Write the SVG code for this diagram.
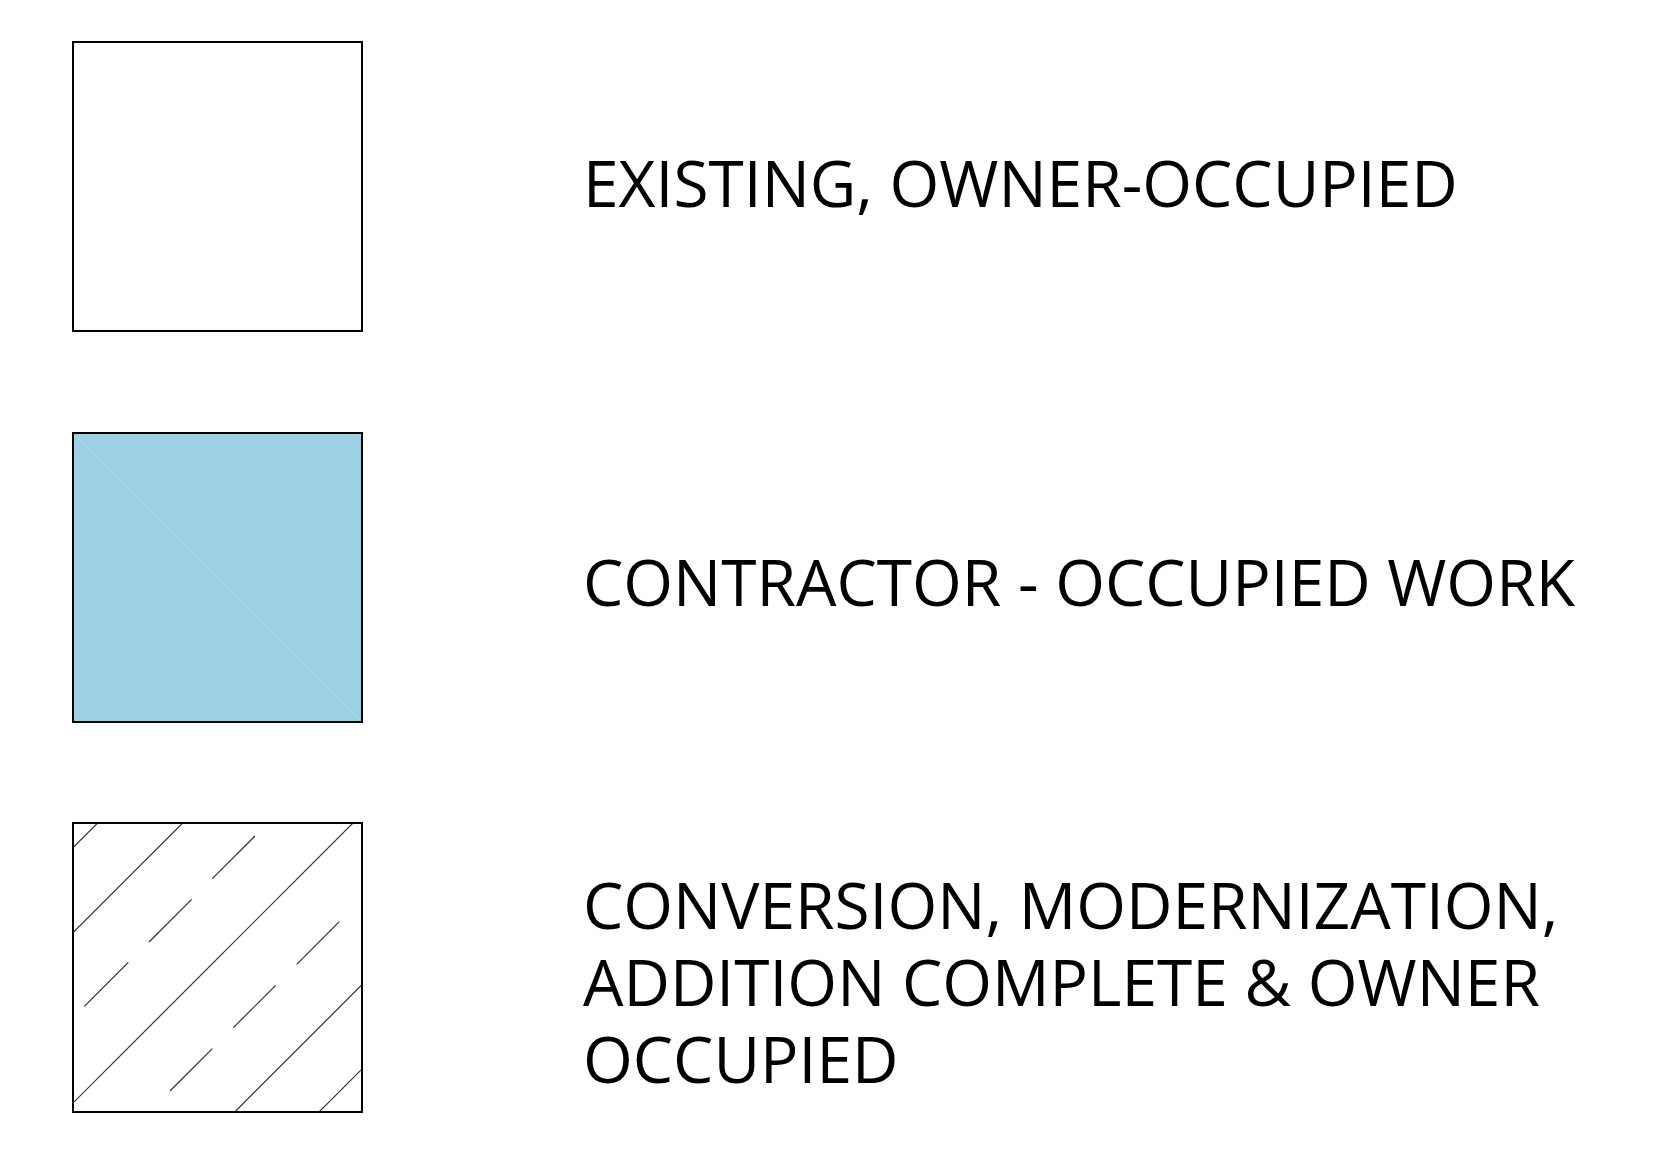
<svg xmlns="http://www.w3.org/2000/svg" width="1653" height="1152" viewBox="0 0 1653 1152">
<defs>
<style>
.box{stroke:#000;stroke-width:2;}
.lbl{font-family:"Open Sans","Noto Sans",sans-serif;font-size:64px;fill:#000;}
.h{stroke:#333;stroke-width:1.2;fill:none;}
</style>
<clipPath id="c3"><rect x="73" y="823" width="289" height="289"/></clipPath>
</defs>
<rect width="1653" height="1152" fill="#fff"/>
<g id="legend-existing">
<rect class="box" x="73" y="42" width="289" height="289" fill="#fff"/>
<text class="lbl" x="583" y="207">EXISTING, OWNER-OCCUPIED</text>
</g>
<g id="legend-contractor">
<rect class="box" x="73" y="433" width="289" height="289" fill="#9bd1e3"/>
<line x1="74" y1="434" x2="361" y2="721" stroke="#b0dcea" stroke-width="1"/>
<text class="lbl" x="583" y="606">CONTRACTOR - OCCUPIED WORK</text>
</g>
<g id="legend-conversion">
<rect class="box" x="73" y="823" width="289" height="289" fill="#fff"/>
<g clip-path="url(#c3)">
<line class="h" x1="63" y1="857.7" x2="106.7" y2="814"/>
<line class="h" x1="63" y1="942.7" x2="191.7" y2="814"/>
<line class="h" x1="84.3" y1="1006.4" x2="128.3" y2="962.4"/>
<line class="h" x1="149" y1="942" x2="191.7" y2="899.3"/>
<line class="h" x1="212.3" y1="878.7" x2="255" y2="836"/>
<line class="h" x1="63" y1="1113" x2="362" y2="814"/>
<line class="h" x1="170" y1="1091" x2="212.3" y2="1048.7"/>
<line class="h" x1="233.3" y1="1027.7" x2="275.7" y2="985.3"/>
<line class="h" x1="296.7" y1="964.3" x2="339.3" y2="921.7"/>
<line class="h" x1="233.7" y1="1113" x2="372" y2="974.7"/>
<line class="h" x1="318" y1="1113" x2="372" y2="1059"/>
</g>
<rect class="box" x="73" y="823" width="289" height="289" fill="none"/>
<text class="lbl" x="583" y="929">CONVERSION, MODERNIZATION,</text>
<text class="lbl" x="583" y="1006">ADDITION COMPLETE &amp; OWNER</text>
<text class="lbl" x="583" y="1083">OCCUPIED</text>
</g>
</svg>
